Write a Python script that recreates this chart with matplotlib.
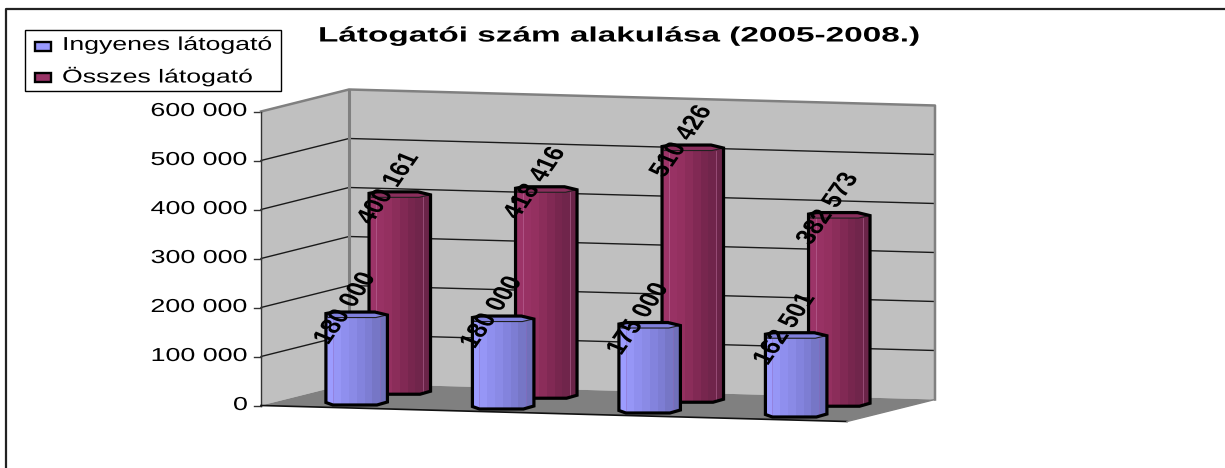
import matplotlib
matplotlib.use('Agg')
import matplotlib.pyplot as plt
import numpy as np
from matplotlib.colors import LinearSegmentedColormap
from matplotlib.patches import Polygon, Rectangle
from matplotlib.patheffects import AbstractPathEffect
from matplotlib.transforms import Affine2D

plt.rcParams['font.family'] = ['Liberation Sans', 'DejaVu Sans']

# adatok
TITLE = 'Látogatói szám alakulása (2005-2008.)'
SERIES_NAMES = ['Ingyenes látogató', 'Összes látogató']
FREE_LABELS = ['180 000', '180 000', '175 000', '162 501']
TOTAL_LABELS = ['400 161', '418 416', '510 426', '382 573']
free_visitors = [180000, 180000, 175000, 162501]
total_visitors = [400161, 418416, 510426, 382573]
y_ticks = [0, 100000, 200000, 300000, 400000, 500000, 600000]


class StretchX(AbstractPathEffect):
    # the original picture was stretched sideways, so the text has to be too
    def __init__(self, sx, x0):
        super().__init__()
        self.sx = sx
        self.x0 = x0

    def draw_path(self, renderer, gc, tpath, affine, rgbFace=None):
        a = affine + Affine2D().translate(-self.x0, 0).scale(self.sx, 1).translate(self.x0, 0)
        renderer.draw_path(gc, tpath, a, rgbFace)


def stretched_text(ax, x, y, s, sx, **kw):
    ax.text(x, y, s, path_effects=[StretchX(sx, x)], **kw)


def project(u, v, value=0, scale=49.0):
    # u: category position, v: depth 0-1, value: height in visitors
    return 261 + 146.5 * u + 88 * v, 405.5 + 4 * u - 22 * v - value / 100000 * scale


def draw_bar(ax, i, v, value, label, colors, cap_color, shine):
    x0, y0 = project(i + 0.338, v)
    w = 61.5
    top = y0 - value / 100000 * 49.7
    bottom = y0 + 0.5
    outline = [(x0, top), (x0 + 8, top - 1.5), (x0 + 49, top - 1.5), (x0 + w, top + 1.5),
               (x0 + w, bottom - 1.5), (x0 + 51, bottom + 1.5), (x0 + 7, bottom + 1.5), (x0, bottom - 1)]
    z = 3 + v * -1
    body = Polygon(outline, closed=True, facecolor='none', edgecolor='none', transform=ax.transData)
    ax.add_patch(body)
    cmap = LinearSegmentedColormap.from_list('bar', colors)
    im = ax.imshow(np.linspace(0, 1, 8).reshape(1, -1), cmap=cmap, aspect='auto', interpolation='nearest',
                   extent=(x0, x0 + w, bottom + 2, top - 2), zorder=z)
    im.set_clip_path(body)
    for dx in (7, 54):
        ax.plot([x0 + dx, x0 + dx], [top + 4, bottom], color=shine, lw=0.6, alpha=0.6, zorder=z + 0.005)
    cap = [(x0 + 1, top + 1), (x0 + 8, top - 1.5), (x0 + 49, top - 1.5), (x0 + w - 1, top + 1.5), (x0 + 50, top + 4), (x0 + 2, top + 4)]
    ax.add_patch(Polygon(cap, closed=True, facecolor=cap_color, edgecolor='#202020', lw=0.8, zorder=z + 0.01))
    ax.add_patch(Polygon(outline, closed=True, facecolor='none', edgecolor='black', lw=2.3, joinstyle='miter', zorder=z + 0.02))
    stretched_text(ax, x0 + w / 2 - 11, top - 5, label, 1.31, fontsize=15.5, fontweight='bold', rotation=62,
                   ha='center', va='center', rotation_mode='anchor', color='black', zorder=6)


fig = plt.figure(figsize=(12.25, 4.68), dpi=100)
ax = fig.add_axes([0, 0, 1, 1])
ax.axis('off')

# fal es padlo
top_val = y_ticks[-1]
fl = project(0, 0)
bl = project(0, 1)
br = project(4, 1)
fr = project(4, 0)
tfl = project(0, 0, top_val)
tbl = project(0, 1, top_val)
tbr = project(4, 1, top_val)
ax.add_patch(Polygon([fl, bl, tbl, tfl], closed=True, facecolor='#C0C0C0', edgecolor='none', zorder=1))
ax.add_patch(Polygon([bl, br, tbr, tbl], closed=True, facecolor='#C0C0C0', edgecolor='none', zorder=1))
ax.add_patch(Polygon([fl, bl, br, fr], closed=True, facecolor='#808080', edgecolor='none', zorder=1.1))

for t in y_ticks:
    p0 = project(0, 0, t)
    p1 = project(0, 1, t)
    p2 = project(4, 1, t)
    if 0 < t < top_val:
        ax.plot([p0[0], p1[0], p2[0]], [p0[1], p1[1], p2[1]], color='#1a1a1a', lw=1, zorder=1.2)
    ax.plot([p0[0] - 7, p0[0]], [p0[1], p0[1]], color='#333333', lw=1, zorder=1.2)
    s = f'{t:,}'.replace(',', ' ')
    stretched_text(ax, p0[0] - 13, p0[1], s, 1.43, fontsize=13.5, ha='right', va='center', color='black')

ax.plot([tfl[0], tbl[0], tbr[0], br[0]], [tfl[1], tbl[1], tbr[1], br[1]], color='#808080', lw=1.8, zorder=1.3)
ax.plot([bl[0], tbl[0]], [bl[1], tbl[1]], color='#808080', lw=2.2, zorder=1.3)
ax.plot([fl[0], tfl[0]], [fl[1], tfl[1]], color='#333333', lw=1, zorder=1.3)
ax.plot([fl[0], fr[0]], [fl[1], fr[1]], color='#111111', lw=1.2, zorder=1.3)
ax.plot([fr[0], br[0]], [fr[1], br[1]], color='#808080', lw=1, zorder=1.3)

# oszlopok: hatso sor, aztan elso sor
for i, (val, lab) in enumerate(zip(total_visitors, TOTAL_LABELS)):
    draw_bar(ax, i, 0.665, val, lab, ['#9C3468', '#93305F', '#7A2750', '#6A2448'], '#8A2E5C', '#C070A0')
for i, (val, lab) in enumerate(zip(free_visitors, FREE_LABELS)):
    draw_bar(ax, i, 0.175, val, lab, ['#9C9CFF', '#8E8EEC', '#8080D8', '#7070BA'], '#8080DD', '#8C6CC0')

# cim, keret, jelmagyarazat
stretched_text(ax, 318, 36, TITLE, 1.6, fontsize=15, fontweight='bold', ha='left', va='center', color='black')
ax.plot([6, 6, 1225], [468, 9, 9], color='#222222', lw=1.6, zorder=0.5)
ax.add_patch(Rectangle((25, 30), 256, 61, facecolor='white', edgecolor='black', lw=1, zorder=5))
for name, y, c in zip(SERIES_NAMES, [46, 77], ['#9999FF', '#993366']):
    ax.add_patch(Rectangle((35, y - 4.5), 16, 9, facecolor=c, edgecolor='black', lw=1.7, zorder=5.1))
    stretched_text(ax, 62, y - 0.5, name, 1.42, fontsize=13.5, ha='left', va='center', color='black', zorder=5.2)

ax.set_xlim(0, 1225)
ax.set_ylim(468, 0)
fig.savefig('out.png', dpi=100, facecolor='white')
